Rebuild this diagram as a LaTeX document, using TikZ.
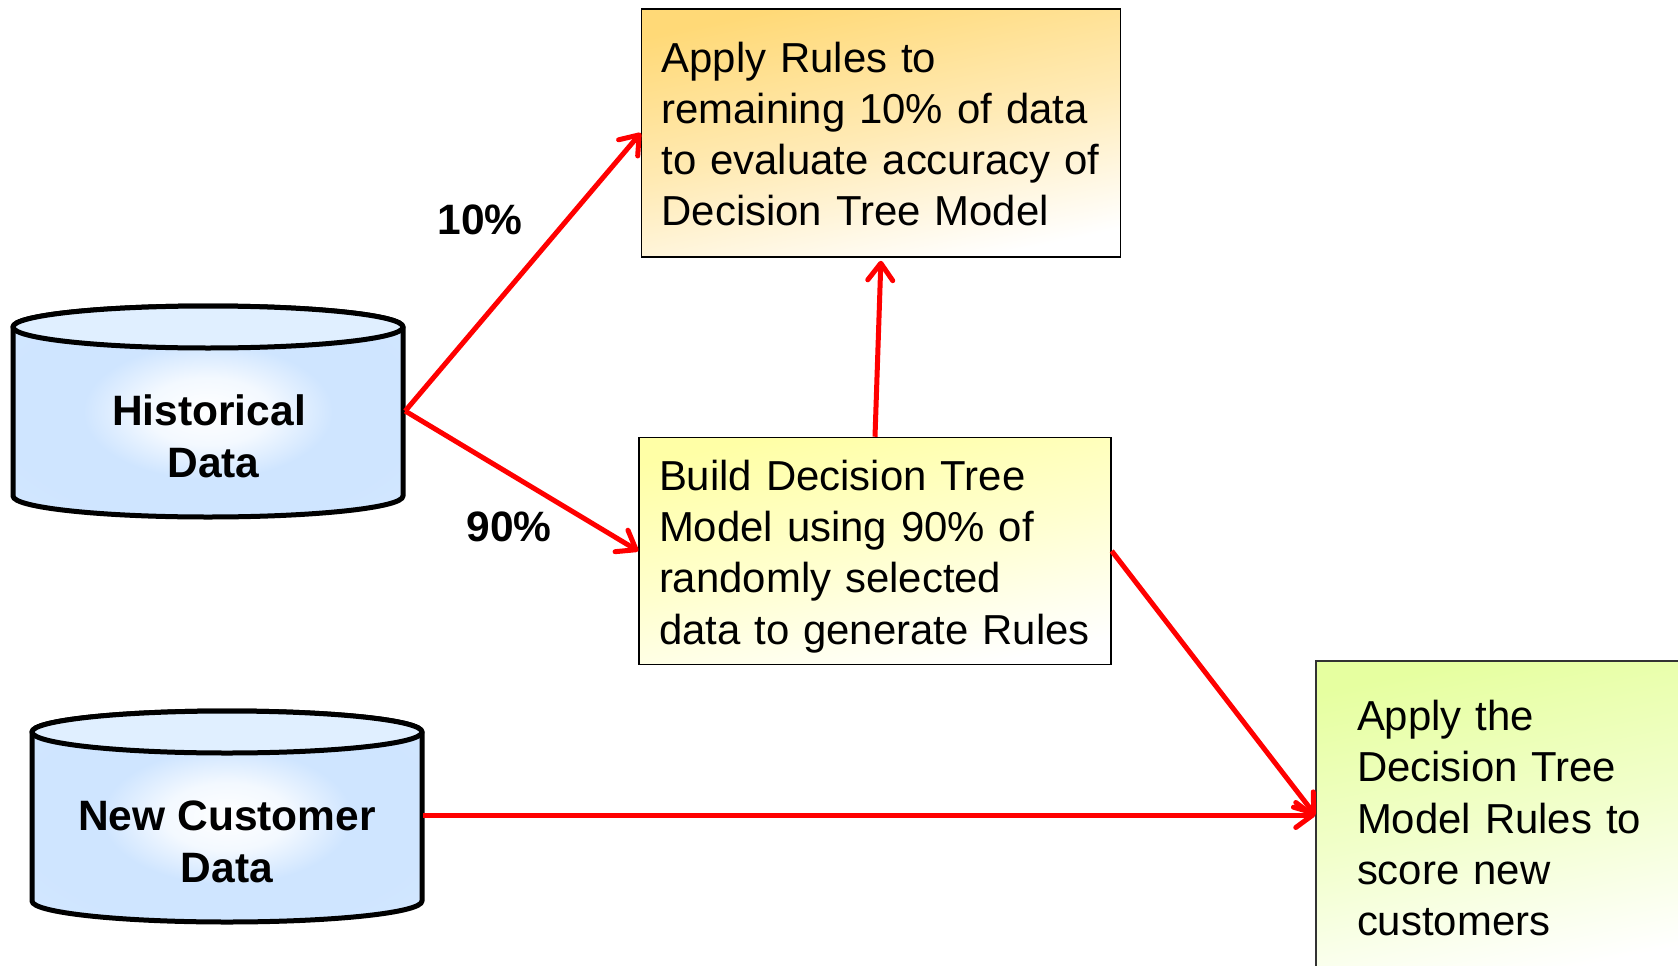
\documentclass[tikz,border=0pt]{standalone}
\usepackage{fontspec}
\setmainfont{Liberation Sans}
\usetikzlibrary{arrows.meta,calc}
\definecolor{cylblue}{HTML}{CFE5FF}
\definecolor{captop}{HTML}{E0EFFF}
\definecolor{orangetop}{HTML}{FFD977}
\definecolor{yellowtop}{HTML}{FFFFA6}
\definecolor{greentop}{HTML}{E6FFA0}
\pgfdeclareradialshading{cylshade}{\pgfpoint{0bp}{0bp}}{%
  color(0bp)=(white);color(8bp)=(white!75!cylblue);color(16bp)=(cylblue);color(26bp)=(cylblue);color(50bp)=(cylblue!80!white)}
\tikzset{
  boxnode/.style={draw=black,line width=1.5pt,rectangle,inner sep=0pt,align=left,
    font=\fontsize{41.9}{51.3}\selectfont},
  boxshade/.style={top color=#1,bottom color=white,middle color=#1!55!white,shading angle=12},
  cyllabel/.style={rectangle,inner sep=0pt,align=center,minimum width=392pt,minimum height=210pt,
    font=\fontsize{42.5}{51.3}\selectfont\bfseries},
  pctlabel/.style={inner sep=0pt,font=\fontsize{42.5}{50}\selectfont\bfseries},
  cylline/.style={draw=black,line width=5pt,line join=round},
  flow/.style={draw=red,line width=5pt,-{Straight Barb[length=17pt,width=25pt,round,line width=5pt]}},
}
\newcommand{\drawcyl}[2]{% left x, top y
  \begin{scope}[shift={(#1,#2)}]
    \path[cylline,shading=cylshade] (0,21) arc[x radius=195,y radius=21,start angle=180,end angle=360] -- (390,190)
       arc[x radius=195,y radius=21,start angle=0,end angle=180] -- cycle;
    \path[cylline,fill=captop] (195,21) ellipse[x radius=195,y radius=21];
  \end{scope}}
\begin{document}
\begin{tikzpicture}[x=1pt,y=-1pt]
\useasboundingbox (0,0) rectangle (1678,966);
\drawcyl{13}{306}
\drawcyl{32}{711}
\node[cyllabel] (hist) at (209,411) {\strut\\[-6pt]Historical\\\hspace*{9pt}Data};
\node[cyllabel] (cust) at (227,815) {\strut\\[-4pt]New Customer\\Data};
\node[boxnode,boxshade=orangetop,text width=439pt,minimum height=248pt,inner xsep=20pt] (apply) at (881,133) {\rule{0pt}{32.4pt}Apply Rules to\\remaining 10\% of data\\to evaluate accuracy of\\Decision Tree Model};
\node[boxnode,boxshade=yellowtop,text width=432pt,minimum height=227pt,inner xsep=20pt] (build) at (875,551) {\rule{0pt}{41.2pt}Build Decision Tree\\Model using 90\% of\\randomly selected\\data to generate Rules};
\node[boxnode,boxshade=greentop,draw=black!80,text width=322pt,minimum height=308pt,inner xsep=41pt] (score) at (1518,815) {\rule{0pt}{36.4pt}Apply the\\Decision Tree\\Model Rules to\\score new\\customers};
\node[pctlabel] (ten) at (480,220) {10\%};
\node[pctlabel] (ninety) at (509,527) {90\%};
\draw[flow] (hist.east) -- (apply.west);
\draw[flow] (hist.east) -- (build.west);
\draw[flow,shorten >=3pt] (build.north) -- (apply.south);
\draw[flow] (build.east) -- (score.west);
\draw[flow] (cust.east) -- (score.west);
\end{tikzpicture}
\end{document}
